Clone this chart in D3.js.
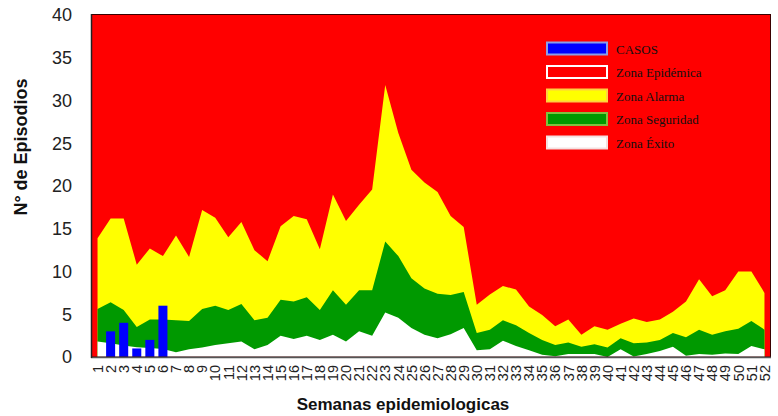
<!DOCTYPE html>
<html><head><meta charset="utf-8">
<script src="https://cdn.jsdelivr.net/npm/d3@7"></script>
<style>body{margin:0;background:#fff}svg{display:block}</style>
</head><body>
<svg id="c" width="778" height="416"></svg>
<script>
const weeks = d3.range(1, 53).map(String);
const alarma = [13.9,16.2,16.2,10.8,12.7,11.8,14.2,11.7,17.2,16.3,14.0,15.8,12.5,11.2,15.3,16.5,16.1,12.6,19.0,15.9,17.8,19.6,31.8,26.2,21.9,20.4,19.3,16.5,15.2,6.1,7.3,8.3,7.9,5.9,4.9,3.6,4.4,2.6,3.6,3.2,3.9,4.5,4.1,4.4,5.3,6.5,9.1,7.1,7.8,10.0,10.0,7.5];
const seguridad = [5.6,6.4,5.5,3.5,4.4,4.4,4.3,4.2,5.6,6.0,5.5,6.2,4.3,4.6,6.7,6.5,7.0,5.5,7.8,6.1,7.8,7.8,13.5,11.8,9.2,8.0,7.4,7.25,7.6,2.8,3.2,4.3,3.7,2.8,2.0,1.4,1.7,1.2,1.5,1.1,2.2,1.6,1.7,2.0,2.8,2.3,3.2,2.6,3.0,3.3,4.2,3.2];
const exito = [1.8,1.6,1.35,1.15,1.05,0.95,0.55,0.9,1.1,1.4,1.6,1.8,0.9,1.4,2.5,2.1,2.5,2.0,2.6,1.8,3.0,2.5,5.2,4.6,3.4,2.6,2.2,2.65,3.4,0.8,0.9,1.9,1.3,0.8,0.25,0.1,0.35,0.35,0.35,0,0.9,0.05,0.35,0.7,1.2,0.15,0.35,0.25,0.4,0.35,1.3,0.9];
const casosWeeks = ["1","2","3","4","5","6"];
const casos = [0,3,4,1,2,6];
const yTicks = [0,5,10,15,20,25,30,35,40];
const legendLabels = ["CASOS","Zona Epidémica","Zona Alarma","Zona Seguridad","Zona Éxito"];

const svg = d3.select("#c");
const L = 91, R = 771, T = 15, B = 357;
const x = d3.scaleBand().domain(weeks).range([L, R]);
const xb = d3.scaleBand().domain(weeks).range([L, R]).paddingInner(0.31).paddingOuter(0.155);
const y = d3.scaleLinear().domain([0, 40]).range([B, T]);
const cx = w => x(w) + x.bandwidth() / 2;

// background (Zona Epidémica)
svg.append("rect").attr("x", L).attr("y", y(40) - 1).attr("width", R - L).attr("height", B - y(40) + 1)
  .attr("fill", "#ff0000");

function zone(vals, color) {
  const area = d3.area().x((d, i) => cx(weeks[i])).y0(y(0)).y1(d => y(d));
  svg.append("path").datum(vals).attr("d", area).attr("fill", color);
}
zone(alarma, "#ffff00");
zone(seguridad, "#009900");
zone(exito, "#ffffff");

// bars
svg.append("g").selectAll("rect").data(casos).join("rect")
  .attr("x", (d, i) => xb(casosWeeks[i]))
  .attr("width", xb.bandwidth())
  .attr("y", d => y(d))
  .attr("height", d => y(0) - y(d))
  .attr("fill", "#0000ff");

// frame
svg.append("rect").attr("x", L + 0.5).attr("y", y(40) - 0.5).attr("width", R - L - 1).attr("height", B - y(40) + 0.5)
  .attr("fill", "none").attr("stroke", "#3a0000").attr("stroke-width", 1);
svg.append("line").attr("x1", L).attr("x2", R).attr("y1", B + 0.5).attr("y2", B + 0.5).attr("stroke", "#555").attr("stroke-width", 1.5);
svg.append("line").attr("x1", L + 0.5).attr("x2", L + 0.5).attr("y1", y(40) - 1).attr("y2", B + 1).attr("stroke", "#222").attr("stroke-width", 1.5);

// y axis
const yAxis = svg.append("g").attr("transform", `translate(${L},0)`)
  .call(d3.axisLeft(y).tickValues(yTicks).tickSize(0).tickPadding(19));
yAxis.select(".domain").remove();
yAxis.selectAll("text").attr("font-family", "Arial, 'Liberation Sans', sans-serif").attr("font-size", 18).attr("fill", "#222");

// x axis
const xAxis = svg.append("g").attr("transform", `translate(0,${B})`)
  .call(d3.axisBottom(x).tickSize(0));
xAxis.select(".domain").remove();
xAxis.selectAll("text")
  .attr("font-family", "Arial, 'Liberation Sans', sans-serif").attr("font-size", 14.5).attr("fill", "#222")
  .attr("transform", "rotate(-90)")
  .attr("text-anchor", "end").attr("dy", "0.36em").attr("x", -8).attr("y", 0);

// titles
svg.append("text").attr("transform", "translate(27,147) rotate(-90)")
  .attr("text-anchor", "middle").attr("font-family", "Arial, 'Liberation Sans', sans-serif")
  .attr("font-weight", "bold").attr("font-size", 18).attr("fill", "#111").text("N° de Episodios");
svg.append("text").attr("x", 403).attr("y", 410)
  .attr("text-anchor", "middle").attr("font-family", "Arial, 'Liberation Sans', sans-serif")
  .attr("font-weight", "bold").attr("font-size", 17).attr("fill", "#111").text("Semanas epidemiologicas");

// legend
const legFill = ["#0000ff", "#ff0000", "#ffff00", "#009900", "#ffffff"];
const legStroke = ["#8aa0e8", "#ffffff", "#ffd040", "#80c040", "#f4e0e0"];
const lg = svg.append("g");
legendLabels.forEach((t, i) => {
  const yy = 48.5 + i * 23.5;
  lg.append("rect").attr("x", 547).attr("y", yy - 6).attr("width", 60).attr("height", 12)
    .attr("fill", legFill[i]).attr("stroke", legStroke[i]).attr("stroke-width", 2);
  lg.append("text").attr("x", 616).attr("y", yy + 5)
    .attr("font-family", "'Liberation Serif', 'Times New Roman', serif").attr("font-size", 13)
    .attr("fill", "#111").text(t);
});
</script>
</body></html>
